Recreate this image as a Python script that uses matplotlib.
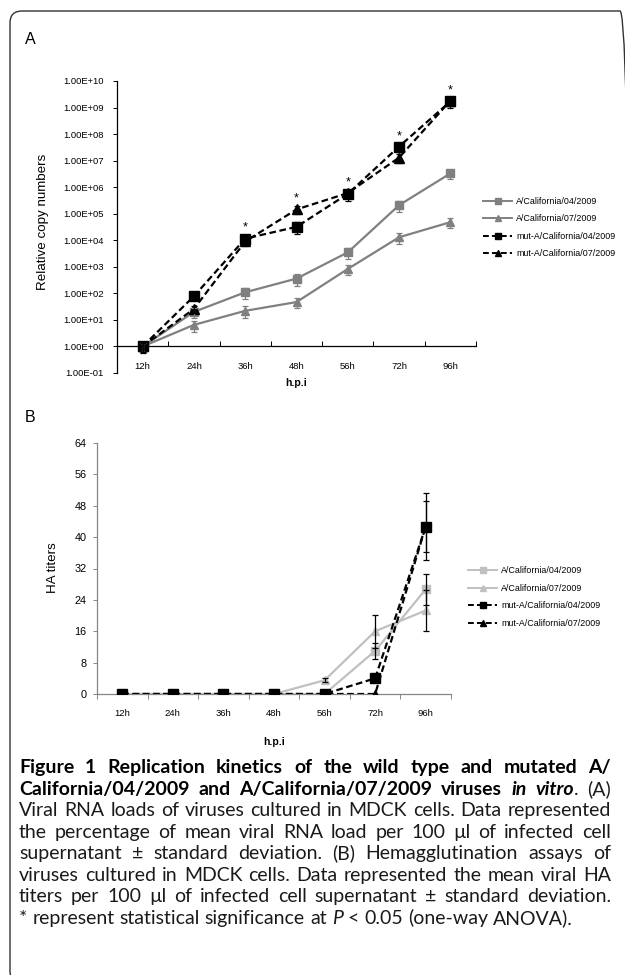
import numpy as np
import matplotlib
matplotlib.use("Agg")
import matplotlib.pyplot as plt
from matplotlib.lines import Line2D
from matplotlib.patches import FancyBboxPatch
from matplotlib.transforms import IdentityTransform

plt.rcParams['font.family'] = ['Liberation Sans', 'DejaVu Sans']

# ---- data -------------------------------------------------------------
hours = ['12h', '24h', '36h', '48h', '56h', '72h', '96h']
names = ['A/California/04/2009', 'A/California/07/2009',
         'mut-A/California/04/2009', 'mut-A/California/07/2009']

# panel A: relative copy numbers (mean, sd)
rna_wt04 = [1, 20, 110, 360, 3500, 2.1e5, 3.3e6]
rna_wt04_sd = [0.4, 8, 50, 170, 1500, 9e4, 1.3e6]
rna_wt07 = [1, 6.5, 22, 47, 830, 1.3e4, 4.8e4]
rna_wt07_sd = [0.4, 3, 10, 20, 350, 5.5e3, 1.9e4]
rna_mut04 = [1, 78, 1.15e4, 3.2e4, 5.6e5, 3.4e7, 1.7e9]
rna_mut04_sd = [0.45, 20, 4e3, 1.5e4, 2.5e5, 1e7, 7e8]
rna_mut07 = [1, 26, 9e3, 1.45e5, 6e5, 1.3e7, 1.8e9]
rna_mut07_sd = [0.4, 8, 3e3, 5e4, 2e5, 5e6, 6e8]
signif = [False, False, True, True, True, True, True]

# panel B: HA titers (mean, sd)
ha_wt04 = [0, 0, 0, 0, 0, 11, 26.7]
ha_wt04_sd = [0, 0, 0, 0, 0, 2, 4]
ha_wt07 = [0, 0, 0, 0, 3.5, 16, 21.3]
ha_wt07_sd = [0, 0, 0, 0, 0.5, 4.2, 5.3]
ha_mut04 = [0, 0, 0, 0, 0, 4, 42.7]
ha_mut04_sd = [0, 0, 0, 0, 0, 0, 8.6]
ha_mut07 = [0, 0, 0, 0, 0, 0, 42.7]
ha_mut07_sd = [0, 0, 0, 0, 0, 0, 6.5]

W, H = 625, 975
fig = plt.figure(figsize=(W / 100, H / 100), dpi=100)


def px_axes(l, t, r, b):
    return fig.add_axes([l / W, 1 - b / H, (r - l) / W, (b - t) / H])


def ftext(x, y, s, **kw):
    return fig.text(x / W, 1 - y / H, s, **kw)


x = np.arange(len(hours))
dash = (0, (3, 1.6))
grey = '#808080'
lgrey = '#c0c0c0'


def series(ax, y, sd, color, marker, ms, ls, ecolor):
    y = np.asarray(y, float)
    sd = np.asarray(sd, float)
    ax.plot(x, y, color=color, lw=1.6, ls=ls, marker=marker, ms=ms,
            mec=color, mfc=color, zorder=3)
    m = sd > 0
    ax.errorbar(x[m], y[m], yerr=sd[m], fmt='none', ecolor=ecolor,
                elinewidth=0.9, capsize=2.5, capthick=0.9, zorder=4)


# ---- panel A ----------------------------------------------------------
axA = px_axes(117, 81, 476, 373)
series(axA, rna_wt04, rna_wt04_sd, grey, 's', 6.2, '-', grey)
series(axA, rna_wt07, rna_wt07_sd, grey, '^', 6.2, '-', grey)
series(axA, rna_mut04, rna_mut04_sd, 'black', 's', 7.3, dash, 'black')
series(axA, rna_mut07, rna_mut07_sd, 'black', '^', 6.5, dash, 'black')

for i in range(len(hours)):
    if signif[i]:
        top = max(rna_mut04[i] + rna_mut04_sd[i], rna_mut07[i] + rna_mut07_sd[i])
        axA.annotate('*', (i, top), xytext=(0, 1), textcoords='offset points',
                     ha='center', va='bottom', fontsize=9)

axA.set_yscale('log')
axA.set_ylim(0.1, 1e10)
axA.set_xlim(-0.5, len(hours) - 0.5)
axA.set_yticks([10.0 ** k for k in range(-1, 11)])
axA.set_yticklabels(['1.00E%+03d' % k for k in range(-1, 11)])
axA.yaxis.set_minor_locator(matplotlib.ticker.NullLocator())
axA.set_xticks(x)
axA.set_xticklabels(hours)
axA.set_xticks(np.arange(-0.5, len(hours)), minor=True)
axA.tick_params(axis='x', which='major', length=0, pad=11, labelsize=6.8)
axA.tick_params(axis='x', which='minor', direction='in', length=3.5, width=0.7)
axA.tick_params(axis='y', direction='out', length=3, width=0.7, pad=6.5, labelsize=6.8)
axA.spines['bottom'].set_position(('data', 1))
for s in ['top', 'right']:
    axA.spines[s].set_visible(False)
for s in ['left', 'bottom']:
    axA.spines[s].set_linewidth(0.9)

ftext(43, 222, 'Relative copy numbers', rotation=90, ha='center', va='center', fontsize=9.6)
ftext(296, 383, 'h.p.i', ha='center', va='center', fontsize=7.5, weight='bold')

hA = [Line2D([], [], color=grey, lw=1.4, marker='s', ms=4),
      Line2D([], [], color=grey, lw=1.4, marker='^', ms=4),
      Line2D([], [], color='black', lw=1.4, ls=dash, marker='s', ms=4.5),
      Line2D([], [], color='black', lw=1.4, ls=dash, marker='^', ms=4)]
fig.legend(hA, names, loc='center left', bbox_to_anchor=(483 / W, 1 - 227.5 / H),
           frameon=False, fontsize=6.4, handlelength=3.3, handletextpad=0.45,
           labelspacing=0.95, borderpad=0, borderaxespad=0)

# ---- panel B ----------------------------------------------------------
axB = px_axes(97, 443, 451, 694)
series(axB, ha_wt04, ha_wt04_sd, lgrey, 's', 5.5, '-', 'black')
series(axB, ha_wt07, ha_wt07_sd, lgrey, '^', 5.5, '-', 'black')
series(axB, ha_mut04, ha_mut04_sd, 'black', 's', 7, dash, 'black')
series(axB, ha_mut07, ha_mut07_sd, 'black', '^', 6, dash, 'black')

axB.set_ylim(0, 64)
axB.set_xlim(-0.5, len(hours) - 0.5)
axB.set_yticks(np.arange(0, 65, 8))
axB.set_xticks(x)
axB.set_xticklabels(hours)
axB.set_xticks(np.arange(-0.5, len(hours)), minor=True)
axB.tick_params(axis='x', which='major', length=0, pad=11, labelsize=6.8)
axB.tick_params(axis='x', which='minor', direction='out', length=3.5, width=0.7,
                color='#868686')
axB.tick_params(axis='y', direction='out', length=3, width=0.7, pad=4.5,
                labelsize=7.8, color='#868686')
for s in ['top', 'right']:
    axB.spines[s].set_visible(False)
for s in ['left', 'bottom']:
    axB.spines[s].set_color('#868686')
    axB.spines[s].set_linewidth(0.9)

ftext(53, 568, 'HA titers', rotation=90, ha='center', va='center', fontsize=9.6)
ftext(274, 742, 'h.p.i', ha='center', va='center', fontsize=7.5, weight='bold')

hB = [Line2D([], [], color=lgrey, lw=1.4, marker='s', ms=4),
      Line2D([], [], color=lgrey, lw=1.4, marker='^', ms=4),
      Line2D([], [], color='black', lw=1.4, ls=dash, marker='s', ms=4.5),
      Line2D([], [], color='black', lw=1.4, ls=dash, marker='^', ms=4)]
fig.legend(hB, names, loc='center left', bbox_to_anchor=(468 / W, 1 - 597 / H),
           frameon=False, fontsize=6.4, handlelength=3.3, handletextpad=0.45,
           labelspacing=0.95, borderpad=0, borderaxespad=0)

# panel letters
ftext(25, 39, 'A', ha='left', va='center', fontsize=11.5)
ftext(25, 418, 'B', ha='left', va='center', fontsize=11.5)

# frame (right and bottom edges fall just outside the picture)
frame = FancyBboxPatch((10, -8), 622, H - 11 + 8,
                       boxstyle='round,pad=0,rounding_size=12',
                       transform=IdentityTransform(), fill=False,
                       ec='#333333', lw=1.0)
fig.add_artist(frame)

# ---- caption ----------------------------------------------------------
caption = [
    [('Figure 1 Replication kinetics of the wild type and mutated A/', 'b')],
    [('California/04/2009 and A/California/07/2009 viruses ', 'b'),
     ('in vitro', 'bi'), ('. (A)', 'n')],
    [('Viral RNA loads of viruses cultured in MDCK cells. Data represented', 'n')],
    [('the percentage of mean viral RNA load per 100 \u00b5l of infected cell', 'n')],
    [('supernatant \u00b1 standard deviation. (B) Hemagglutination assays of', 'n')],
    [('viruses cultured in MDCK cells. Data represented the mean viral HA', 'n')],
    [('titers per 100 \u00b5l of infected cell supernatant \u00b1 standard deviation.', 'n')],
    [('* represent statistical significance at ', 'n'), ('P', 'i'),
     (' < 0.05 (one-way ANOVA).', 'n')],
]
cap_base = [773, 795, 816, 838, 859, 881, 902, 924]
cap_left, cap_right = 19, 611
cap_font = 'Lato'

renderer = fig.canvas.get_renderer()


def style(key, size):
    st = dict(family=cap_font, fontsize=size, color='#1a1a1a')
    if 'b' in key:
        st.update(weight='bold', color='black')
    if 'i' in key:
        st.update(style='italic')
    return st


def text_width(s, st):
    t = fig.text(0, 0, s, **st)
    w = t.get_window_extent(renderer).width
    t.remove()
    return w


# fit font size so the longest plain line fills the text block
probe = max(text_width(seg[0][0], style('n', 10)) for seg in caption[2:7])
cap_size = 10 * (cap_right - cap_left) / probe * 0.985


def split_words(segs):
    words = []
    join = False
    for text, key in segs:
        parts = text.split(' ')
        for k, p in enumerate(parts):
            if p == '':
                continue
            if k == 0 and join and words:
                words[-1].append((p, key))
            else:
                words.append([(p, key)])
        join = not text.endswith(' ')
    return words


space = text_width('a b', style('n', cap_size)) - text_width('ab', style('n', cap_size))
for n, (segs, yb) in enumerate(zip(caption, cap_base)):
    words = split_words(segs)
    widths = [[text_width(t, style(k, cap_size)) for t, k in w] for w in words]
    total = sum(sum(w) for w in widths)
    if n < len(caption) - 1:
        gap = (cap_right - cap_left - total) / (len(words) - 1)
    else:
        gap = space
    xx = cap_left
    for w, ws in zip(words, widths):
        for (t, k), wd in zip(w, ws):
            ftext(xx, yb, t, ha='left', va='baseline', **style(k, cap_size))
            xx += wd
        xx += gap

fig.savefig('out.png', dpi=100)
